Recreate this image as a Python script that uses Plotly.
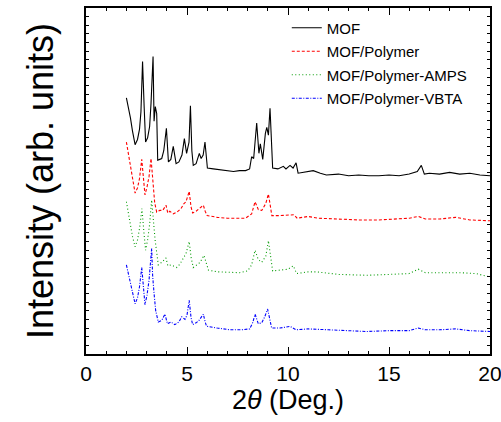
import plotly.graph_objects as go

# ---- data (y in arbitrary offset units) ----
mof_x = [2.0, 2.1, 2.2, 2.3, 2.43, 2.55, 2.65, 2.72, 2.8, 2.88, 2.95, 3.05, 3.15, 3.22, 3.32, 3.37, 3.43, 3.5,
         3.55, 3.65, 3.75, 3.85, 3.98, 4.08, 4.2, 4.32, 4.46, 4.6, 4.75, 4.87, 4.98, 5.1, 5.17, 5.24, 5.31, 5.45,
         5.61, 5.7, 5.8, 5.89, 6.01, 6.3, 6.6, 7.0, 7.3, 7.6, 7.9, 8.1, 8.2, 8.3, 8.45, 8.56, 8.63, 8.75, 8.88,
         8.95, 9.03, 9.11, 9.18, 9.24, 9.5, 9.77, 9.9, 10.1, 10.25, 10.4, 10.5, 10.8, 11.25, 11.6, 11.9, 12.5,
         13.0, 13.5, 14.0, 14.5, 15.0, 15.5, 16.0, 16.4, 16.6, 16.75, 17.0, 17.5, 18.0, 18.5, 19.0, 19.5, 19.9, 20.0]
mof_y = [29.6, 28.5, 27.3, 25.8, 24.2, 24.8, 26.0, 28.0, 33.8, 28.5, 24.5, 25.0, 26.3, 29.0, 34.4, 26.9, 28.6, 27.8,
         22.4, 22.5, 22.6, 23.5, 26.1, 22.2, 22.5, 24.0, 22.0, 22.2, 23.0, 24.9, 23.2, 24.5, 28.7, 23.5, 21.8, 22.0,
         23.2, 22.6, 23.0, 24.5, 21.5, 21.4, 21.3, 21.2, 21.1, 21.2, 21.2, 21.4, 22.8, 22.6, 26.7, 23.2, 24.3, 22.5,
         25.5, 26.2, 25.3, 28.4, 25.0, 21.5, 21.4, 21.7, 21.4, 21.8, 21.5, 22.1, 20.9, 21.0, 21.2, 20.9, 20.7, 20.8,
         20.6, 20.7, 20.6, 20.6, 20.7, 20.6, 20.8, 21.1, 21.8, 20.8, 20.9, 20.8, 21.0, 20.8, 20.9, 20.7, 20.6, 20.6]

pol_x = [2.0, 2.1, 2.2, 2.3, 2.43, 2.55, 2.65, 2.76, 2.85, 2.92, 3.02, 3.12, 3.22, 3.3, 3.4, 3.5, 3.65, 3.8, 3.96,
         4.05, 4.15, 4.32, 4.5, 4.7, 4.85, 4.95, 5.11, 5.2, 5.28, 5.45, 5.6, 5.81, 5.9, 6.0, 6.5, 7.0, 7.5, 7.9,
         8.2, 8.37, 8.53, 8.7, 8.9, 9.03, 9.12, 9.2, 9.6, 10.0, 10.3, 10.45, 11.0, 11.5, 12.5, 13.5, 14.5, 15.5,
         16.0, 16.45, 16.8, 17.5, 18.3, 19.0, 19.9, 20.0]
pol_y = [24.5, 23.0, 21.5, 20.0, 18.6, 19.2, 20.3, 22.5, 20.0, 18.4, 19.3, 20.5, 22.6, 19.8, 17.5, 16.4, 16.6, 16.6,
         17.2, 16.3, 16.5, 16.2, 16.4, 16.8, 17.4, 17.6, 18.8, 17.0, 16.3, 16.5, 16.8, 17.2, 16.5, 16.0, 15.8, 15.7,
         15.7, 15.7, 16.2, 17.6, 16.7, 16.6, 17.4, 18.5, 17.2, 16.0, 16.0, 16.1, 16.1, 15.7, 15.9, 15.7, 15.6, 15.5,
         15.5, 15.6, 15.7, 15.9, 15.6, 15.6, 15.8, 15.5, 15.4, 15.4]

amps_x = [2.0, 2.1, 2.2, 2.3, 2.43, 2.55, 2.65, 2.77, 2.87, 2.95, 3.05, 3.15, 3.25, 3.33, 3.42, 3.58, 3.75, 3.96,
          4.05, 4.2, 4.49, 4.65, 4.82, 4.95, 5.11, 5.2, 5.31, 5.5, 5.65, 5.84, 5.95, 6.06, 6.5, 7.13, 7.6, 8.0,
          8.2, 8.37, 8.53, 8.7, 8.9, 9.03, 9.12, 9.24, 9.6, 10.0, 10.26, 10.43, 11.0, 11.4, 12.5, 13.9, 15.0, 16.0,
          16.45, 16.8, 17.5, 18.5, 19.3, 19.9, 20.0]
amps_y = [17.6, 16.2, 14.8, 13.6, 12.4, 13.2, 14.5, 16.8, 14.0, 12.0, 13.2, 15.0, 17.8, 15.5, 13.2, 10.3, 10.6, 11.1,
          10.2, 10.3, 10.0, 10.4, 11.1, 11.6, 13.0, 11.2, 10.0, 10.3, 10.6, 11.4, 10.4, 9.7, 9.5, 9.4, 9.4, 9.6,
          10.3, 12.0, 10.9, 10.6, 11.3, 13.1, 11.5, 9.6, 9.7, 9.8, 10.2, 9.3, 9.5, 9.5, 9.2, 9.1, 9.2, 9.3, 9.8,
          9.4, 9.4, 9.4, 9.3, 8.9, 8.9]

vbta_x = [2.0, 2.1, 2.2, 2.3, 2.43, 2.55, 2.65, 2.76, 2.85, 2.92, 3.02, 3.12, 3.25, 3.3, 3.37, 3.45, 3.58, 3.75,
          3.91, 4.03, 4.2, 4.4, 4.6, 4.74, 4.9, 5.0, 5.11, 5.2, 5.28, 5.45, 5.6, 5.81, 5.9, 5.97, 6.5, 7.13, 7.7,
          8.1, 8.25, 8.37, 8.53, 8.7, 8.85, 8.99, 9.1, 9.19, 9.6, 10.1, 10.4, 11.0, 12.0, 13.9, 15.0, 16.0, 16.45,
          16.8, 17.5, 18.3, 19.0, 19.9, 20.0]
vbta_y = [10.3, 9.2, 8.0, 6.9, 5.8, 6.5, 7.8, 10.0, 7.5, 5.7, 6.8, 8.5, 12.2, 9.0, 7.0, 5.0, 3.7, 3.9, 4.6, 3.5,
          3.7, 3.4, 3.7, 4.3, 4.0, 4.5, 6.2, 4.2, 3.4, 3.6, 3.9, 4.6, 3.7, 3.2, 3.0, 2.8, 2.8, 2.9, 3.6, 4.6, 3.5,
          3.6, 4.3, 5.2, 4.0, 3.0, 3.0, 3.2, 2.8, 2.9, 2.8, 2.6, 2.7, 2.7, 3.0, 2.8, 2.8, 2.9, 2.7, 2.6, 2.6]

series_names = ["MOF", "MOF/Polymer", "MOF/Polymer-AMPS", "MOF/Polymer-VBTA"]
x_ticks = [0, 5, 10, 15, 20]

FONT = "Arial, Liberation Sans, sans-serif"

fig = go.Figure()
styles = [("black", "solid"), ("#ff0000", "3px,2px"), ("#009a00", "1px,2.5px"), ("#0000ff", "3px,1.5px,1px,1.5px")]
data = [(mof_x, mof_y), (pol_x, pol_y), (amps_x, amps_y), (vbta_x, vbta_y)]
for i, ((xs, ys), name, (col, dash)) in enumerate(zip(data, series_names, styles)):
    fig.add_trace(go.Scatter(x=xs, y=ys, name=name, mode="lines", legendgroup=f"g{i}",
                             line=dict(color=col, width=1.1, dash=dash)))

fig.update_layout(
    template="none",
    width=501, height=422,
    margin=dict(l=86, r=11, t=8, b=68, autoexpand=False),
    paper_bgcolor="white", plot_bgcolor="white",
    font=dict(family=FONT, color="black"),
    showlegend=True,
    legend=dict(x=0.497, y=0.99, xanchor="left", yanchor="top", bgcolor="rgba(0,0,0,0)",
                font=dict(size=15, family=FONT), tracegroupgap=1, traceorder="grouped"),
    xaxis=dict(range=[0, 20], tickmode="array", tickvals=x_ticks, ticks="inside", ticklen=7, tickwidth=1.2,
               tickcolor="black",
               minor=dict(tickmode="linear", tick0=0, dtick=1, ticks="inside", ticklen=3.5, tickcolor="black",
                          tickwidth=1.2, showgrid=False),
               showline=True, linecolor="black", linewidth=1.5, mirror="allticks", showgrid=False, zeroline=False,
               automargin=False, ticklabeloverflow="allow",
               tickfont=dict(size=21, family=FONT),
               title=dict(text="2<i>θ</i> (Deg.)", font=dict(size=27, family=FONT), standoff=6)),
    yaxis=dict(range=[0, 40], tickmode="linear", tick0=0, dtick=1, ticks="inside", ticklen=3, tickwidth=1.2,
               tickcolor="black", showticklabels=False, automargin=False,
               showline=True, linecolor="black", linewidth=1.5, mirror="allticks", showgrid=False, zeroline=False,
               title=dict(text="Intensity (arb. units)", font=dict(size=36, family=FONT), standoff=20)),
)

fig.write_html("out.html", config={"displayModeBar": False},
               post_script="document.body.style.margin='0';document.body.style.overflow='hidden';")
